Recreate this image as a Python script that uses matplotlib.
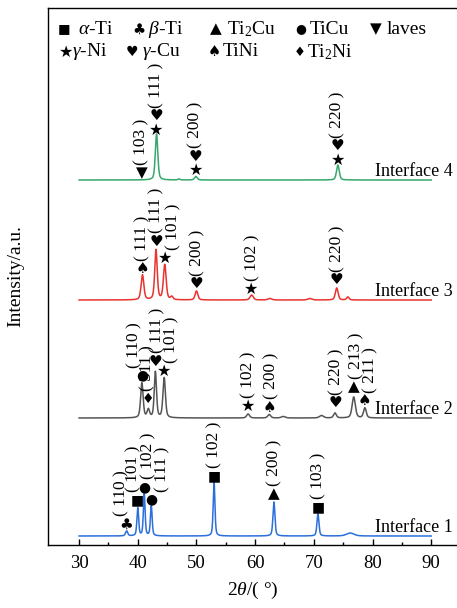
import numpy as np
import matplotlib
matplotlib.use("Agg")
import matplotlib.pyplot as plt

plt.rcParams['font.family'] = ['Liberation Serif', 'DejaVu Sans']
plt.rcParams['mathtext.fontset'] = 'custom'
plt.rcParams['mathtext.rm'] = 'Liberation Serif'
plt.rcParams['mathtext.it'] = 'Liberation Serif:italic'
plt.rcParams['mathtext.default'] = 'regular'

# ---------------- data ----------------
curve_names = ["Interface 1", "Interface 2", "Interface 3", "Interface 4"]
curve_colors = ["#2a6fdc", "#555555", "#e8332e", "#36a86b"]
baselines = [9, 127, 245, 365]          # vertical offset of each pattern (a.u.)

# peaks: 2theta, height (a.u.), FWHM (deg)
peaks_1_pos = [38.1, 40.0, 41.1, 42.3, 53.0, 63.2, 70.7, 76.2]
peaks_1_h   = [5, 28, 42, 30, 54, 34, 22, 3]
peaks_1_w   = [0.45, 0.35, 0.35, 0.35, 0.35, 0.4, 0.4, 1.5]

peaks_2_pos = [40.7, 41.8, 43.0, 44.5, 58.8, 62.4, 64.8, 71.3, 73.6, 76.8, 78.7]
peaks_2_h   = [35, 8, 46, 40, 4, 3.5, 1.5, 2.5, 5, 21, 10]
peaks_2_w   = [0.5, 0.5, 0.45, 0.5, 0.6, 0.6, 0.8, 0.8, 0.55, 0.65, 0.55]

peaks_3_pos = [40.8, 43.1, 44.6, 45.8, 50.0, 59.4, 62.5, 69.3, 73.9, 75.8]
peaks_3_h   = [25, 50, 35, 3, 9, 5, 1.5, 1.5, 12, 3]
peaks_3_w   = [0.55, 0.5, 0.55, 0.5, 0.55, 0.65, 0.8, 0.8, 0.55, 0.5]

peaks_4_pos = [43.2, 47.0, 49.9, 74.1]
peaks_4_h   = [46, 1, 3.5, 15]
peaks_4_w   = [0.5, 0.4, 0.55, 0.55]

# annotations: 2theta, phase symbols (bottom to top), (hkl)
ann_1_pos = [38.1, 40.0, 41.1, 42.3, 53.0, 63.2, 70.7]
ann_1_sym = ["♣", "■", "●", "●", "■", "▲", "■"]
ann_1_hkl = ["110", "101", "102", "111", "102", "200", "103"]

ann_2_pos = [40.7, 41.8, 43.0, 44.5, 58.8, 62.4, 73.6, 76.8, 78.7]
ann_2_sym = ["●", "♦", "♥", "★", "★", "♠", "♥", "▲", "♠"]
ann_2_hkl = ["110", "511", "111", "101", "102", "200", "220", "213", "211"]

ann_3_pos = [40.8, 43.1, 44.6, 50.0, 59.4, 73.9]
ann_3_sym = ["♠", "♥", "★", "♥", "★", "♥"]
ann_3_hkl = ["111", "111", "101", "200", "102", "220"]

ann_4_pos = [40.7, 43.2, 49.9, 74.1]
ann_4_sym = ["▼", "★♥", "★♥", "★♥"]
ann_4_hkl = ["103", "111", "200", "220"]

legend_sym = ["■", "♣", "▲", "●", "▼", "★", "♥", "♠", "♦"]
legend_lab = [r"$\mathit{\alpha}$-Ti", r"$\mathit{\beta}$-Ti", r"Ti$_2$Cu", "TiCu", "laves",
              r"$\mathit{\gamma}$-Ni", r"$\mathit{\gamma}$-Cu", "TiNi", r"Ti$_2$Ni"]

# ---------------- layout / style ----------------
ann_1_dx = [-5, -4, 4, 11, 0, 0, 0]
ann_1_lift = [7, 7, 6, 6, 6, 8, 7]
ann_2_dx = [-7, -1, 2, 7, 0, 2, 1, 3, 6]
ann_2_lift = [7, 9, 10, 6, 8, 7, 10, 10, 7]
ann_3_dx = [0, 0, 9, 1, 1, 1]
ann_3_lift = [6, 8, 6, 7, 6, 8]
ann_4_dx = [0, 0, 0, 0]
ann_4_lift = [7, 4, 6, 5]

sym_size = {"■": 10, "♣": 11, "▲": 11, "●": 10, "▼": 11,
            "★": 11.5, "♥": 11, "♠": 11, "♦": 10}
leg_size = {"■": 9.5, "♣": 10.5, "▲": 11, "●": 9, "▼": 11,
            "★": 11.5, "♥": 10, "♠": 10.5, "♦": 9.5}

W, H = 457, 608
fig = plt.figure(figsize=(W / 100, H / 100), dpi=100)
ax = fig.add_axes([48 / W, 63 / H, 1 - 48 / W, 537 / H])
ax.set_xlim(24.7, 94.4)
ax.set_ylim(0, 537)
px_per_deg = (W * (1 - 48 / W)) / (94.4 - 24.7)

two_theta = np.linspace(30, 90, 4001)


def pattern(pos, h, w):
    y = np.zeros_like(two_theta)
    for p, hh, ww in zip(pos, h, w):
        g = np.exp(-4 * np.log(2) * ((two_theta - p) / ww) ** 2)
        lo = 1 / (1 + 4 * ((two_theta - p) / ww) ** 2)
        y += hh * (0.55 * g + 0.45 * lo)
    return y


peaks = [(peaks_1_pos, peaks_1_h, peaks_1_w), (peaks_2_pos, peaks_2_h, peaks_2_w),
         (peaks_3_pos, peaks_3_h, peaks_3_w), (peaks_4_pos, peaks_4_h, peaks_4_w)]
anns = [(ann_1_pos, ann_1_sym, ann_1_hkl, ann_1_dx, ann_1_lift),
        (ann_2_pos, ann_2_sym, ann_2_hkl, ann_2_dx, ann_2_lift),
        (ann_3_pos, ann_3_sym, ann_3_hkl, ann_3_dx, ann_3_lift),
        (ann_4_pos, ann_4_sym, ann_4_hkl, ann_4_dx, ann_4_lift)]

hkl_font = dict(family='Liberation Serif', fontsize=12.5,
                rotation=90, ha='center', va='bottom')

for name, col, base, pk, an in zip(curve_names, curve_colors, baselines, peaks, anns):
    y = base + pattern(*pk)
    ax.plot(two_theta, y, color=col, lw=1.1)
    ax.text(80.5, base + 4, name, fontsize=13, ha='left', va='baseline')
    for p, s, hkl, dx, lift in zip(*an):
        idx = np.argmin(np.abs(two_theta - p))
        top = y[max(idx - 8, 0): idx + 9].max()
        ys = top + lift
        for ch in s:
            ax.text(p, ys, ch, family='DejaVu Sans', fontsize=sym_size[ch],
                    ha='center', va='center')
            ys += 14
        ax.text(p + dx / px_per_deg, ys - 14 + 8, "( " + hkl + " )", **hkl_font)

ax.set_xticks(np.arange(30, 91, 10))
ax.set_xticks(np.arange(35, 90, 10), minor=True)
ax.tick_params(axis='x', which='major', direction='in', length=4, width=1, labelsize=13.5, pad=7)
ax.tick_params(axis='x', which='minor', direction='in', length=2, width=1)
ax.set_yticks([])
ax.spines['right'].set_visible(False)
for s in ['left', 'top', 'bottom']:
    ax.spines[s].set_linewidth(1.0)

ax.set_xlabel(r"2$\mathit{\theta}$/( °)", fontsize=14, labelpad=6)
ax.set_ylabel("Intensity/a.u.", fontsize=14, labelpad=17)

# legend as text rows
leg_sym_x = [64, 139, 216, 301, 376, 66, 132, 214, 300]
leg_lab_x = [78, 148, 227, 310, 387, 72, 142, 223, 307]
leg_y = [29, 29, 29, 29, 29, 52, 52, 52, 52]
for s, l, sx, lx, yy in zip(legend_sym, legend_lab, leg_sym_x, leg_lab_x, leg_y):
    fig.text(sx / W, 1 - yy / H, s, family='DejaVu Sans', fontsize=leg_size[s],
             ha='center', va='center')
    fig.text(lx / W, 1 - yy / H, l, fontsize=14, ha='left', va='center')

fig.savefig("out.png", dpi=100)
